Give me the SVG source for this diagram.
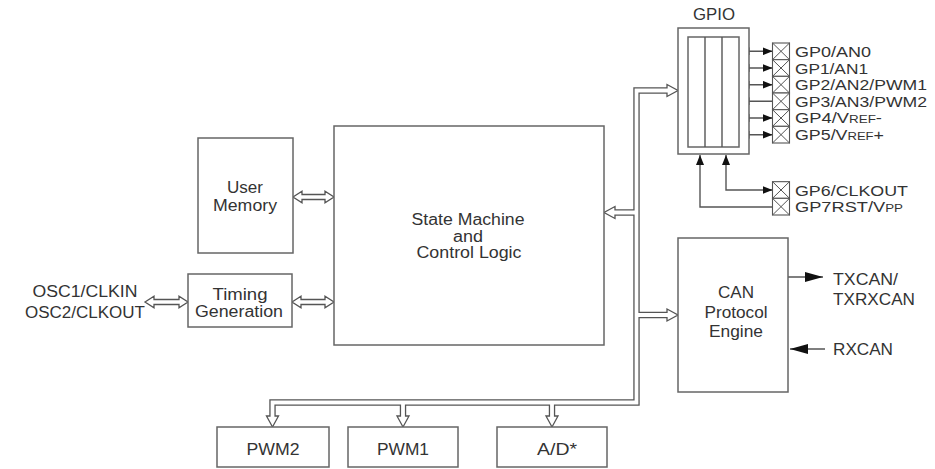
<svg xmlns="http://www.w3.org/2000/svg" width="935" height="469" viewBox="0 0 935 469">
<style>
.box{fill:#fff;stroke:#666;stroke-width:1.5}
.t{font-family:"Liberation Sans",Arial,sans-serif;font-size:16px;fill:#333}
.tp{font-family:"Liberation Sans",Arial,sans-serif;font-size:15px;fill:#333}
.m{text-anchor:middle}
.ln{fill:none;stroke:#555;stroke-width:1.4}
.harrow{fill:#fff;stroke:#555;stroke-width:1.3;stroke-linejoin:miter}
.busg{fill:none;stroke:#555;stroke-width:6.4;stroke-linejoin:miter}
.busw{fill:none;stroke:#fff;stroke-width:3.8;stroke-linejoin:miter}
.pin{fill:#fff;stroke:#555;stroke-width:1.1}
.sm{font-size:11px}
</style>
<defs>
<marker id="ah" viewBox="0 0 10 8" refX="10" refY="4" markerWidth="10" markerHeight="8" markerUnits="userSpaceOnUse" orient="auto-start-reverse">
<path d="M0,0 L10,4 L0,8 z" fill="#111"/>
</marker>
<marker id="ahL" viewBox="0 0 18 10" refX="18" refY="5" markerWidth="18" markerHeight="10" markerUnits="userSpaceOnUse" orient="auto-start-reverse">
<path d="M0,0 L18,5 L0,10 z" fill="#111"/>
</marker>
<g id="pincell">
<rect class="pin" x="0" y="0" width="17" height="16.67"/>
<path d="M0,0 L17,16.67 M17,0 L0,16.67" fill="none" stroke="#555" stroke-width="1"/>
</g>
</defs>
<rect width="935" height="469" fill="#fff"/>

<g id="connectors">
<!-- hollow double arrows -->
<polygon class="harrow" points="293,197 302,191.3 302,194.5 325,194.5 325,191.3 334,197 325,202.7 325,199.5 302,199.5 302,202.7"/>
<polygon class="harrow" points="292,302 301,296.3 301,299.5 325,299.5 325,296.3 334,302 325,307.7 325,304.5 301,304.5 301,307.7"/>
<polygon class="harrow" points="145,302 154,296.3 154,299.5 179,299.5 179,296.3 188,302 179,307.7 179,304.5 154,304.5 154,307.7"/>
<!-- bus arrowheads -->
<polygon class="harrow" points="667,84.5 678,90.5 667,96.5"/>
<polygon class="harrow" points="615,206.5 604,212.5 615,218.5"/>
<polygon class="harrow" points="667,309 678,315 667,321"/>
<polygon class="harrow" points="266.5,416 272.5,427 278.5,416"/>
<polygon class="harrow" points="397,416 403,427 409,416"/>
<polygon class="harrow" points="546,416 552,427 558,416"/>
<!-- bus double lines -->
<path class="busg" d="M667 90.5 H636.5 V402.5 H272.5 V416 M636.5 212.5 H615 M636.5 315 H667 M403 402.5 V416 M552 402.5 V416"/>
<path class="busw" d="M668.6 90.5 H636.5 V402.5 H272.5 V417.6 M636.5 212.5 H613.4 M636.5 315 H668.6 M403 402.5 V417.6 M552 402.5 V417.6"/>
<!-- GPIO pin arrows -->
<line class="ln" x1="739.5" y1="51.3" x2="772.5" y2="51.3" marker-start="url(#ah)" marker-end="url(#ah)"/>
<line class="ln" x1="739.5" y1="68" x2="772.5" y2="68" marker-start="url(#ah)" marker-end="url(#ah)"/>
<line class="ln" x1="739.5" y1="84.7" x2="772.5" y2="84.7" marker-start="url(#ah)" marker-end="url(#ah)"/>
<line class="ln" x1="739.5" y1="101.3" x2="772.5" y2="101.3" marker-start="url(#ah)"/>
<line class="ln" x1="739.5" y1="118" x2="772.5" y2="118" marker-start="url(#ah)" marker-end="url(#ah)"/>
<line class="ln" x1="739.5" y1="134.7" x2="772.5" y2="134.7" marker-start="url(#ah)" marker-end="url(#ah)"/>
<path class="ln" d="M726 155 V190 H772.5" marker-start="url(#ah)" marker-end="url(#ah)"/>
<path class="ln" d="M700 155 V207 H772.5" marker-start="url(#ah)"/>
<!-- CAN pins -->
<line class="ln" x1="788" y1="277" x2="823" y2="277" marker-end="url(#ahL)"/>
<line class="ln" x1="825" y1="349" x2="790" y2="349" marker-end="url(#ahL)"/>
</g>

<g id="state-machine">
<rect class="box" x="334" y="126" width="270" height="219"/>
<text class="t m" x="468" y="225" textLength="113" lengthAdjust="spacingAndGlyphs">State Machine</text>
<text class="t m" x="468" y="242" textLength="30" lengthAdjust="spacingAndGlyphs">and</text>
<text class="t m" x="469" y="258" textLength="105" lengthAdjust="spacingAndGlyphs">Control Logic</text>
</g>

<g id="user-memory">
<rect class="box" x="198" y="138" width="95" height="115"/>
<text class="t m" x="245" y="193" textLength="36" lengthAdjust="spacingAndGlyphs">User</text>
<text class="t m" x="245" y="211" textLength="64" lengthAdjust="spacingAndGlyphs">Memory</text>
</g>

<g id="timing-generation">
<rect class="box" x="188" y="274" width="104" height="53"/>
<text class="t m" x="240" y="300" textLength="55" lengthAdjust="spacingAndGlyphs">Timing</text>
<text class="t m" x="239" y="317" textLength="88" lengthAdjust="spacingAndGlyphs">Generation</text>
</g>

<g id="osc">
<text class="t m" x="85" y="297" textLength="105" lengthAdjust="spacingAndGlyphs">OSC1/CLKIN</text>
<text class="t m" x="85" y="318" textLength="120" lengthAdjust="spacingAndGlyphs">OSC2/CLKOUT</text>
</g>

<g id="gpio">
<text class="t m" x="714" y="20" textLength="42" lengthAdjust="spacingAndGlyphs">GPIO</text>
<rect class="box" x="678" y="28" width="71" height="126"/>
<rect class="box" x="688" y="37" width="51" height="110"/>
<line class="ln" x1="705" y1="37" x2="705" y2="147"/>
<line class="ln" x1="722" y1="37" x2="722" y2="147"/>
</g>

<g id="gpio-pins">
<use href="#pincell" x="772.5" y="43"/>
<use href="#pincell" x="772.5" y="59.67"/>
<use href="#pincell" x="772.5" y="76.33"/>
<use href="#pincell" x="772.5" y="93"/>
<use href="#pincell" x="772.5" y="109.67"/>
<use href="#pincell" x="772.5" y="126.33"/>
<use href="#pincell" x="772.5" y="181.67"/>
<use href="#pincell" x="772.5" y="198.33"/>
<text class="tp" x="795" y="57" textLength="76" lengthAdjust="spacingAndGlyphs">GP0/AN0</text>
<text class="tp" x="795" y="73.5" textLength="73" lengthAdjust="spacingAndGlyphs">GP1/AN1</text>
<text class="tp" x="795" y="90" textLength="132" lengthAdjust="spacingAndGlyphs">GP2/AN2/PWM1</text>
<text class="tp" x="795" y="106.5" textLength="132" lengthAdjust="spacingAndGlyphs">GP3/AN3/PWM2</text>
<text class="tp" x="795" y="123" textLength="87" lengthAdjust="spacingAndGlyphs">GP4/V<tspan class="sm">REF</tspan>-</text>
<text class="tp" x="795" y="140" textLength="89" lengthAdjust="spacingAndGlyphs">GP5/V<tspan class="sm">REF</tspan>+</text>
<text class="tp" x="795" y="195.5" textLength="113" lengthAdjust="spacingAndGlyphs">GP6/CLKOUT</text>
<text class="tp" x="795" y="212" textLength="108" lengthAdjust="spacingAndGlyphs">GP7RST/V<tspan class="sm">PP</tspan></text>
</g>

<g id="can-engine">
<rect class="box" x="678" y="238" width="110" height="154"/>
<text class="t m" x="736" y="298" textLength="36" lengthAdjust="spacingAndGlyphs">CAN</text>
<text class="t m" x="736" y="318" textLength="63" lengthAdjust="spacingAndGlyphs">Protocol</text>
<text class="t m" x="736" y="337" textLength="54" lengthAdjust="spacingAndGlyphs">Engine</text>
</g>

<g id="can-pins">
<text class="t" x="833" y="285" textLength="65" lengthAdjust="spacingAndGlyphs">TXCAN/</text>
<text class="t" x="833" y="305" textLength="82" lengthAdjust="spacingAndGlyphs">TXRXCAN</text>
<text class="t" x="833" y="355" textLength="60" lengthAdjust="spacingAndGlyphs">RXCAN</text>
</g>

<g id="pwm2">
<rect class="box" x="217" y="427" width="112" height="40"/>
<text class="t m" x="273" y="455" textLength="53" lengthAdjust="spacingAndGlyphs">PWM2</text>
</g>
<g id="pwm1">
<rect class="box" x="348" y="427" width="110" height="40"/>
<text class="t m" x="403" y="455" textLength="52" lengthAdjust="spacingAndGlyphs">PWM1</text>
</g>
<g id="adc">
<rect class="box" x="497" y="427" width="110" height="40"/>
<text class="t m" x="557" y="455" textLength="40" lengthAdjust="spacingAndGlyphs">A/D*</text>
</g>
</svg>
